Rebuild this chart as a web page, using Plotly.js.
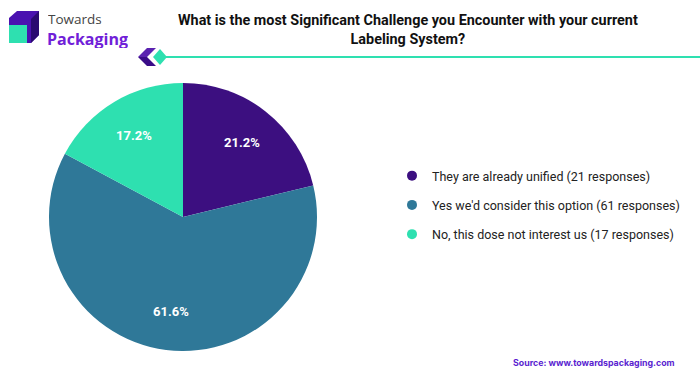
<!DOCTYPE html>
<html><head><meta charset="utf-8">
<script src="https://cdn.plot.ly/plotly-3.0.1.min.js"></script>
<style>html,body{margin:0;padding:0;background:#fff}#chart{width:700px;height:376px}</style>
</head><body><div id="chart"></div>
<script>
const categories = ["They are already unified (21 responses)", "Yes we'd consider this option (61 responses)", "No, this dose not interest us (17 responses)"];
const responses = [21, 61, 17];
const colors = ["#3c0f80", "#2f7898", "#2ee0b0"];
const titleText = "What is the most Significant Challenge you Encounter with your current<br>Labeling System?";
const sourceText = "Source: www.towardspackaging.com";

const W = 700, H = 376;
const pieDom = {x: [49/W, 317/W], y: [1 - 351/H, 1 - 83/H]};
const pie = {
  type: "pie", values: responses, labels: categories, sort: false, direction: "clockwise", rotation: 0,
  marker: {colors: colors, line: {width: 0}},
  textinfo: "none", showlegend: false, hoverinfo: "none", domain: pieDom
};
const legendTraces = categories.map((c, i) => ({
  type: "scatter", mode: "markers", x: [null], y: [null], name: c,
  legendgroup: "g" + i, marker: {color: colors[i], size: 10, symbol: "circle"}
}));

// percent labels placed along each slice's mid-angle
const total = responses.reduce((a, b) => a + b, 0);
const cxPx = (pieDom.x[0] + pieDom.x[1]) / 2 * W, cyPx = (1 - (pieDom.y[0] + pieDom.y[1]) / 2) * H;
const rPx = (pieDom.x[1] - pieDom.x[0]) * W / 2;
let cum = 0;
const pctAnn = responses.map(v => {
  const mid = (cum + v / 2) / total * 2 * Math.PI; cum += v;
  const rr = 0.71 * rPx;
  return {text: "<b>" + (v / total * 100).toFixed(1) + "%</b>", xref: "paper", yref: "paper",
    x: (cxPx + rr * Math.sin(mid)) / W, y: 1 - (cyPx - rr * Math.cos(mid)) / H,
    showarrow: false, xanchor: "center", yanchor: "middle",
    font: {family: "Roboto", size: 13, color: "#ffffff"}};
});

const P = (x, y) => `${x / W} ${1 - y / H}`;
const layout = {
  width: W, height: H, margin: {l: 0, r: 0, t: 0, b: 0},
  paper_bgcolor: "#fff", plot_bgcolor: "#fff",
  xaxis: {visible: false, domain: [0.9, 0.91]}, yaxis: {visible: false, domain: [0.9, 0.91]},
  legend: {x: 392/W, y: 1 - 161/H, xanchor: "left", yanchor: "top", traceorder: "grouped", tracegroupgap: 10,
    font: {family: "Roboto", size: 12.5, color: "#222"}, itemwidth: 30, bgcolor: "rgba(0,0,0,0)"},
  shapes: [
    {type: "line", xref: "paper", yref: "paper", x0: 165/W, x1: 1, y0: 1 - 57/H, y1: 1 - 57/H, line: {color: "#2ee0b0", width: 2}},
    {type: "path", xref: "paper", yref: "paper",
      path: `M ${P(147,48)} L ${P(156,48)} L ${P(147,57)} L ${P(138,57)} Z`, fillcolor: "#5a22b0", line: {width: 0}},
    {type: "path", xref: "paper", yref: "paper",
      path: `M ${P(138,57)} L ${P(147,57)} L ${P(156,66)} L ${P(147,66)} Z`, fillcolor: "#3a0c88", line: {width: 0}},
    {type: "path", xref: "paper", yref: "paper",
      path: `M ${P(160,49)} L ${P(167,57)} L ${P(160,65)} L ${P(153,57)} Z`, fillcolor: "#2ee0b0", line: {width: 0}},
    // logo cube
    {type: "path", xref: "paper", yref: "paper",
      path: `M ${P(9,18)} L ${P(17,11)} L ${P(39,11)} L ${P(39,35)} L ${P(31,43)} L ${P(9,43)} Z`,
      fillcolor: "#4a12b0", line: {width: 0}},
    {type: "rect", xref: "paper", yref: "paper", x0: 9/W, x1: 27/W, y0: 1-43/H, y1: 1-25/H, fillcolor: "#2ee0b0", line: {width: 0}},
    {type: "path", xref: "paper", yref: "paper",
      path: `M ${P(31,19)} L ${P(39,11)} L ${P(39,35)} L ${P(31,43)} Z`,
      fillcolor: "#2a0a70", line: {width: 0}}
  ],
  annotations: [
    {text: "<b>" + titleText + "</b>", xref: "paper", yref: "paper", x: 408/W, y: 1 - 30/H, xanchor: "center", yanchor: "middle",
      showarrow: false, align: "center", font: {family: "Roboto", size: 14.4, color: "#111"}},
    {text: "Towards", xref: "paper", yref: "paper", x: 46/W, y: 1 - 19/H, xanchor: "left", yanchor: "middle", showarrow: false,
      font: {family: "Open Sans", size: 13.5, color: "#444"}, height: 13},
    {text: "<b>Packaging</b>", xref: "paper", yref: "paper", x: 45/W, y: 1 - 38.5/H, xanchor: "left", yanchor: "middle", showarrow: false,
      font: {family: "Open Sans", size: 16, color: "#7020d8"}, height: 19},
    {text: "<b>" + sourceText + "</b>", xref: "paper", yref: "paper", x: 677/W, y: 1 - 362/H, xanchor: "right", yanchor: "middle", showarrow: false,
      font: {family: "Inter", size: 8.8, color: "#5a1fd0"}}
  ].concat(pctAnn)
};
Plotly.newPlot("chart", [pie].concat(legendTraces), layout, {displayModeBar: false, staticPlot: true});
</script></body></html>
